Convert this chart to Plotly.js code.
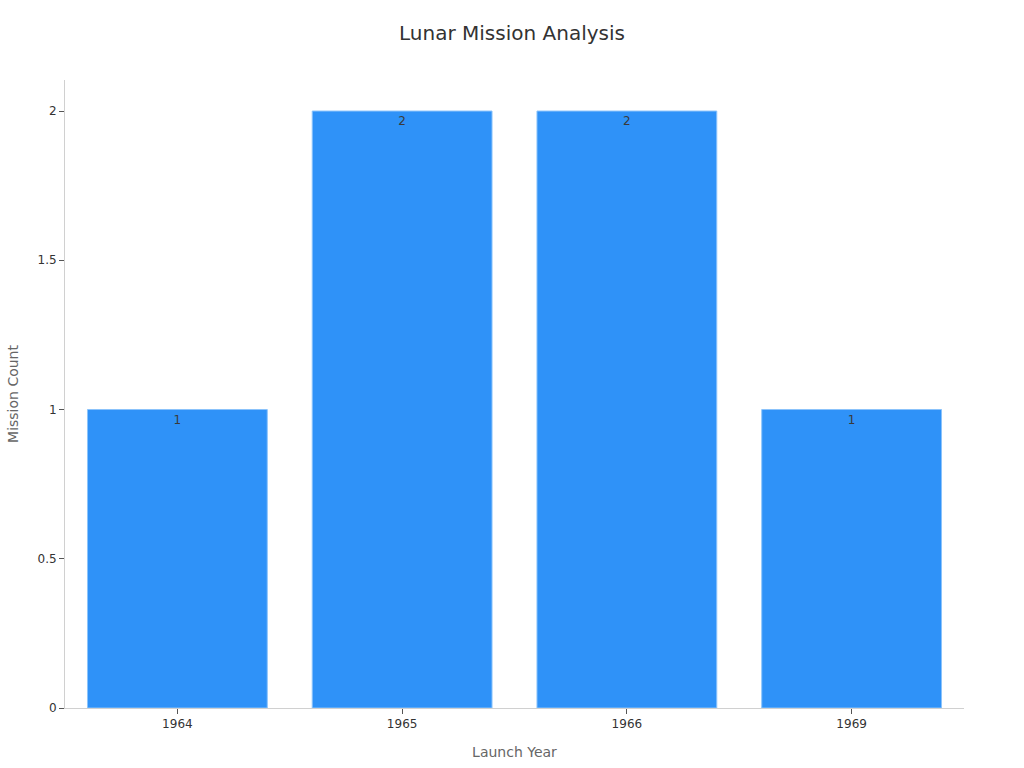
<!DOCTYPE html>
<html>
<head>
<meta charset="utf-8">
<script src="https://cdn.plot.ly/plotly-3.0.1.min.js"></script>
<style>html,body{margin:0;padding:0;background:#fff;}#chart{width:1024px;height:768px;}</style>
</head>
<body>
<div id="chart"></div>
<script>
const years = ['1964', '1965', '1966', '1969'];
const missionCounts = [1, 2, 2, 1];
const labels = missionCounts.map(String);

const trace = {
  type: 'bar',
  x: years,
  y: missionCounts,
  text: labels,
  textposition: 'inside',
  insidetextanchor: 'end',
  textfont: {family: 'DejaVu Sans', size: 12, color: '#3a3a3a'},
  marker: {color: '#2F92F8', line: {color: '#8cc4fb', width: 1}},
  hoverinfo: 'x+y'
};

const layout = {
  width: 1024,
  height: 768,
  margin: {l: 65, r: 60, t: 80, b: 60},
  paper_bgcolor: '#ffffff',
  plot_bgcolor: '#ffffff',
  font: {family: 'DejaVu Sans', color: '#333333'},
  title: {text: 'Lunar Mission Analysis', x: 0.5, xanchor: 'center', y: 0.957, yanchor: 'middle', font: {size: 20, color: '#333333'}},
  bargap: 0.2,
  showlegend: false,
  xaxis: {
    type: 'category',
    title: {text: 'Launch Year', font: {size: 14, color: '#666666'}, standoff: 16},
    showline: true, linecolor: '#d0d0d0', linewidth: 1,
    ticks: 'outside', ticklen: 5, tickcolor: '#555555',
    tickfont: {size: 12, color: '#333333'},
    showgrid: false, zeroline: false
  },
  yaxis: {
    title: {text: 'Mission Count', font: {size: 14, color: '#666666'}, standoff: 15},
    range: [0, 2.104],
    dtick: 0.5, tick0: 0,
    showline: true, linecolor: '#d0d0d0', linewidth: 1,
    ticks: 'outside', ticklen: 5, tickcolor: '#555555',
    tickfont: {size: 12, color: '#333333'},
    showgrid: false, zeroline: false
  }
};

Plotly.newPlot('chart', [trace], layout, {displayModeBar: false, staticPlot: true});
</script>
</body>
</html>
